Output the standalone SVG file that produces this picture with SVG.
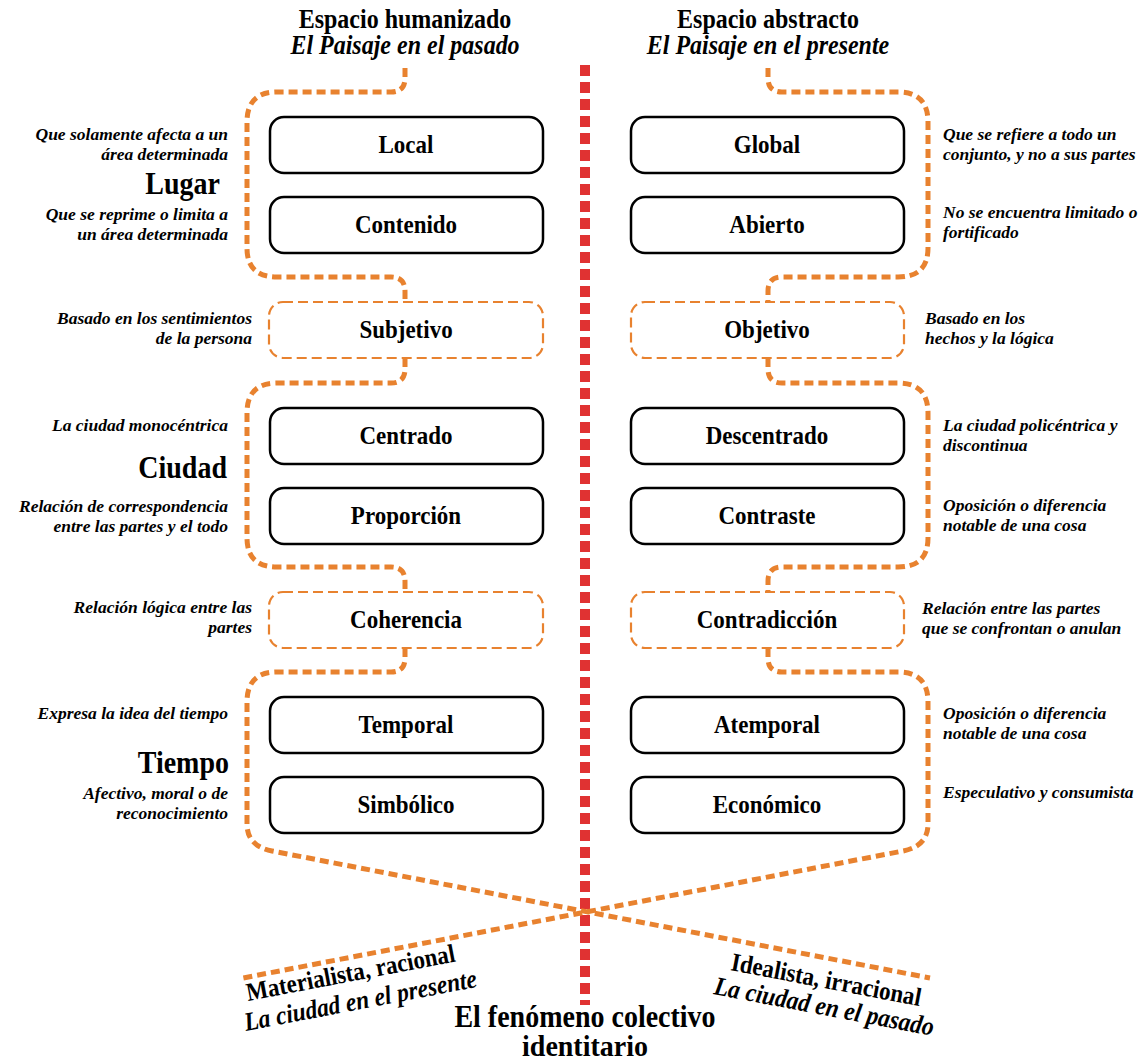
<svg xmlns="http://www.w3.org/2000/svg" width="1145" height="1064" viewBox="0 0 1145 1064">
<style>
text{font-family:"Liberation Serif","Times New Roman",serif;fill:#000}
.t{font-size:24px;font-weight:bold;text-anchor:middle}
.ti{font-size:24px;font-weight:bold;font-style:italic;text-anchor:middle}
.bl{font-size:23px;font-weight:bold;text-anchor:middle}
.sl{font-size:17.5px;font-weight:bold;font-style:italic;text-anchor:end}
.sr{font-size:17.5px;font-weight:bold;font-style:italic;text-anchor:start}
.cat{font-size:28px;font-weight:bold;text-anchor:end}
.big{font-size:28px;font-weight:bold;text-anchor:middle}
.rb{font-size:23px;font-weight:bold}
.ri{font-size:23.5px;font-weight:bold;font-style:italic}
.box{fill:#fff;stroke:#000;stroke-width:2.5}
.dbox{fill:#fff;stroke:#E8822F;stroke-width:2.2;stroke-dasharray:10 5}
.br{fill:none;stroke:#E8822F;stroke-width:5;stroke-dasharray:9 5}
.axis{fill:none;stroke:#E03232;stroke-width:10;stroke-dasharray:11 6}
</style>
<rect width="1145" height="1064" fill="#fff"/>
<g id="connectors">
<path class="axis" d="M585,65 V1005"/>
<path class="br" d="M405,68 V78 Q405,92 391,92 H277 Q247,92 247,122 V248 Q247,277 277,277 H391 Q405,277 405,291 V302"/>
<path class="br" d="M405,358 V369 Q405,383 391,383 H277 Q247,383 247,413 V538 Q247,567 277,567 H391 Q405,567 405,581 V592"/>
<path class="br" d="M405,648 V658 Q405,672 391,672 H277 Q247,672 247,702 V824 Q247,846 272,851 L930,978"/>
<path class="br" d="M768,68 V78 Q768,92 782,92 H898 Q928,92 928,122 V248 Q928,277 898,277 H782 Q768,277 768,291 V302"/>
<path class="br" d="M768,358 V369 Q768,383 782,383 H898 Q928,383 928,413 V538 Q928,567 898,567 H782 Q768,567 768,581 V592"/>
<path class="br" d="M768,648 V658 Q768,672 782,672 H898 Q928,672 928,702 V824 Q928,846 903,851 L243,978"/>
</g>
<g id="titles">
<text class="t" transform="translate(405,28) scale(1,1.1)">Espacio humanizado</text>
<text class="ti" transform="translate(405,54) scale(1,1.1)">El Paisaje en el pasado</text>
<text class="t" transform="translate(768,28) scale(1,1.1)">Espacio abstracto</text>
<text class="ti" transform="translate(768,54) scale(1,1.1)">El Paisaje en el presente</text>
</g>
<g id="node-local"><rect class="box" x="270" y="117" width="273" height="56" rx="14"/><text class="bl" transform="translate(406,153) scale(1,1.12)">Local</text></g>
<g id="node-contenido"><rect class="box" x="270" y="197" width="273" height="56" rx="14"/><text class="bl" transform="translate(406,233) scale(1,1.12)">Contenido</text></g>
<g id="node-subjetivo"><rect class="dbox" x="269" y="302" width="274" height="56" rx="14"/><text class="bl" transform="translate(406,338) scale(1,1.12)">Subjetivo</text></g>
<g id="node-centrado"><rect class="box" x="270" y="408" width="273" height="56" rx="14"/><text class="bl" transform="translate(406,444) scale(1,1.12)">Centrado</text></g>
<g id="node-proporcion"><rect class="box" x="270" y="488" width="273" height="56" rx="14"/><text class="bl" transform="translate(406,524) scale(1,1.12)">Proporción</text></g>
<g id="node-coherencia"><rect class="dbox" x="269" y="592" width="274" height="56" rx="14"/><text class="bl" transform="translate(406,628) scale(1,1.12)">Coherencia</text></g>
<g id="node-temporal"><rect class="box" x="270" y="697" width="273" height="56" rx="14"/><text class="bl" transform="translate(406,733) scale(1,1.12)">Temporal</text></g>
<g id="node-simbolico"><rect class="box" x="270" y="777" width="273" height="56" rx="14"/><text class="bl" transform="translate(406,813) scale(1,1.12)">Simbólico</text></g>
<g id="node-global"><rect class="box" x="631" y="117" width="273" height="56" rx="14"/><text class="bl" transform="translate(767,153) scale(1,1.12)">Global</text></g>
<g id="node-abierto"><rect class="box" x="631" y="197" width="273" height="56" rx="14"/><text class="bl" transform="translate(767,233) scale(1,1.12)">Abierto</text></g>
<g id="node-objetivo"><rect class="dbox" x="631" y="302" width="273" height="56" rx="14"/><text class="bl" transform="translate(767,338) scale(1,1.12)">Objetivo</text></g>
<g id="node-descentrado"><rect class="box" x="631" y="408" width="273" height="56" rx="14"/><text class="bl" transform="translate(767,444) scale(1,1.12)">Descentrado</text></g>
<g id="node-contraste"><rect class="box" x="631" y="488" width="273" height="56" rx="14"/><text class="bl" transform="translate(767,524) scale(1,1.12)">Contraste</text></g>
<g id="node-contradiccion"><rect class="dbox" x="631" y="592" width="273" height="56" rx="14"/><text class="bl" transform="translate(767,628) scale(1,1.12)">Contradicción</text></g>
<g id="node-atemporal"><rect class="box" x="631" y="697" width="273" height="56" rx="14"/><text class="bl" transform="translate(767,733) scale(1,1.12)">Atemporal</text></g>
<g id="node-economico"><rect class="box" x="631" y="777" width="273" height="56" rx="14"/><text class="bl" transform="translate(767,813) scale(1,1.12)">Económico</text></g>
<g id="left-notes">
<text class="sl" x="228" y="140">Que solamente afecta a un</text>
<text class="sl" x="228" y="160">área determinada</text>
<text class="cat" transform="translate(220,194) scale(1,1.1)">Lugar</text>
<text class="sl" x="228" y="220">Que se reprime o limita a</text>
<text class="sl" x="228" y="240">un área determinada</text>
<text class="sl" x="252" y="324">Basado en los sentimientos</text>
<text class="sl" x="252" y="344">de la persona</text>
<text class="sl" x="228" y="431">La ciudad monocéntrica</text>
<text class="cat" transform="translate(227,478) scale(1,1.1)">Ciudad</text>
<text class="sl" x="228" y="512">Relación de correspondencia</text>
<text class="sl" x="228" y="532">entre las partes y el todo</text>
<text class="sl" x="252" y="613">Relación lógica entre las</text>
<text class="sl" x="252" y="633">partes</text>
<text class="sl" x="228" y="719">Expresa la idea del tiempo</text>
<text class="cat" transform="translate(229,773) scale(1,1.1)">Tiempo</text>
<text class="sl" x="228" y="799">Afectivo, moral o de</text>
<text class="sl" x="228" y="819">reconocimiento</text>
</g>
<g id="right-notes">
<text class="sr" x="943" y="140">Que se refiere a todo un</text>
<text class="sr" x="943" y="160">conjunto, y no a sus partes</text>
<text class="sr" x="943" y="218">No se encuentra limitado o</text>
<text class="sr" x="943" y="238">fortificado</text>
<text class="sr" x="925" y="324">Basado en los</text>
<text class="sr" x="925" y="344">hechos y la lógica</text>
<text class="sr" x="943" y="431">La ciudad policéntrica y</text>
<text class="sr" x="943" y="451">discontinua</text>
<text class="sr" x="943" y="511">Oposición o diferencia</text>
<text class="sr" x="943" y="531">notable de una cosa</text>
<text class="sr" x="922" y="614">Relación entre las partes</text>
<text class="sr" x="922" y="634">que se confrontan o anulan</text>
<text class="sr" x="943" y="719">Oposición o diferencia</text>
<text class="sr" x="943" y="739">notable de una cosa</text>
<text class="sr" x="943" y="798">Especulativo y consumista</text>
</g>
<g id="bottom">
<text class="rb" transform="translate(248,1001) rotate(-10.8) scale(1,1.12)">Materialista, racional</text>
<text class="ri" transform="translate(246,1031) rotate(-10.8) scale(1,1.12)">La ciudad en el presente</text>
<text class="rb" transform="translate(730,970) rotate(10.8) scale(1,1.12)">Idealista, irracional</text>
<text class="ri" transform="translate(713,994) rotate(10.8) scale(1,1.12)">La ciudad en el pasado</text>
<text class="big" transform="translate(585,1027) scale(1,1.1)">El fenómeno colectivo</text>
<text class="big" transform="translate(585,1056) scale(1,1.02)">identitario</text>
</g>
</svg>
